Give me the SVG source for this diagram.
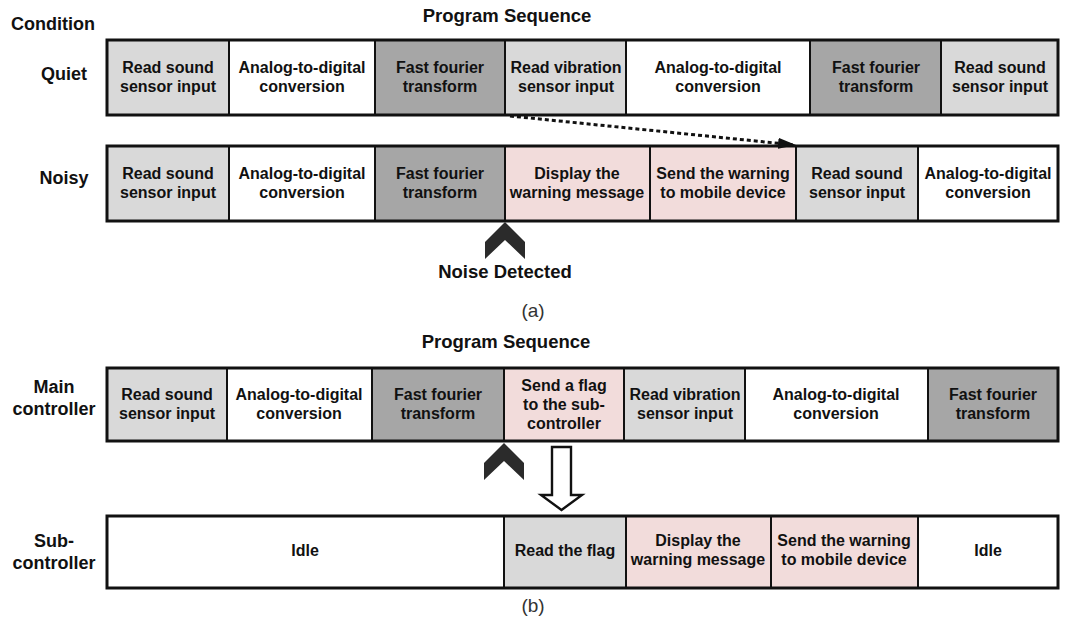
<svg xmlns="http://www.w3.org/2000/svg" width="1065" height="621" viewBox="0 0 1065 621">
<style>
text{font-family:"Liberation Sans",Arial,sans-serif;font-weight:bold;fill:#111;}
.t{font-size:16px;text-anchor:middle;}
.lbl{font-size:18px;text-anchor:middle;}
.ttl{font-size:18.5px;text-anchor:middle;}
.cap{font-size:19px;font-weight:normal;text-anchor:middle;fill:#333;}
.c{stroke:#111;stroke-width:2;}
.lg{fill:#d9d9d9;}
.dg{fill:#a6a6a6;}
.wh{fill:#ffffff;}
.pk{fill:#f2dcdb;}
.frame{fill:none;stroke:#111;stroke-width:3;}
.chev{fill:#2b2b2b;}
</style>
<defs>
<marker id="ah" markerWidth="18" markerHeight="11" refX="17" refY="5.5" orient="auto" markerUnits="userSpaceOnUse" viewBox="0 0 18 11">
<path d="M0,0 L18,5.5 L0,11 Z" fill="#111"/>
</marker>
</defs>
<rect width="1065" height="621" fill="#fff"/>

<text x="53" y="30" class="ttl" style="font-size:18px">Condition</text>
<text x="507" y="22" class="ttl">Program Sequence</text>
<text x="64" y="80" class="lbl">Quiet</text>
<text x="64" y="184" class="lbl">Noisy</text>

<!-- Quiet row -->
<g id="q1"><rect x="107" y="40" width="122" height="75" class="c lg"/><text x="168" y="73" class="t">Read sound</text><text x="168" y="92" class="t">sensor input</text></g>
<g id="q2"><rect x="229" y="40" width="146" height="75" class="c wh"/><text x="302" y="73" class="t">Analog-to-digital</text><text x="302" y="92" class="t">conversion</text></g>
<g id="q3"><rect x="375" y="40" width="130" height="75" class="c dg"/><text x="440" y="73" class="t">Fast fourier</text><text x="440" y="92" class="t">transform</text></g>
<g id="q4"><rect x="505" y="40" width="121" height="75" class="c lg"/><text x="566" y="73" class="t">Read vibration</text><text x="566" y="92" class="t">sensor input</text></g>
<g id="q5"><rect x="626" y="40" width="184" height="75" class="c wh"/><text x="718" y="73" class="t">Analog-to-digital</text><text x="718" y="92" class="t">conversion</text></g>
<g id="q6"><rect x="810" y="40" width="131" height="75" class="c dg"/><text x="876" y="73" class="t">Fast fourier</text><text x="876" y="92" class="t">transform</text></g>
<g id="q7"><rect x="941" y="40" width="117" height="75" class="c lg"/><text x="1000" y="73" class="t">Read sound</text><text x="1000" y="92" class="t">sensor input</text></g>
<rect x="107" y="40" width="951" height="75" class="frame"/>

<!-- Noisy row -->
<g id="n1"><rect x="107" y="146" width="122" height="75" class="c lg"/><text x="168" y="179" class="t">Read sound</text><text x="168" y="198" class="t">sensor input</text></g>
<g id="n2"><rect x="229" y="146" width="146" height="75" class="c wh"/><text x="302" y="179" class="t">Analog-to-digital</text><text x="302" y="198" class="t">conversion</text></g>
<g id="n3"><rect x="375" y="146" width="130" height="75" class="c dg"/><text x="440" y="179" class="t">Fast fourier</text><text x="440" y="198" class="t">transform</text></g>
<g id="n4"><rect x="505" y="146" width="145" height="75" class="c pk"/><text x="577" y="179" class="t">Display the</text><text x="577" y="198" class="t">warning message</text></g>
<g id="n5"><rect x="650" y="146" width="146" height="75" class="c pk"/><text x="723" y="179" class="t">Send the warning</text><text x="723" y="198" class="t">to mobile device</text></g>
<g id="n6"><rect x="796" y="146" width="122" height="75" class="c lg"/><text x="857" y="179" class="t">Read sound</text><text x="857" y="198" class="t">sensor input</text></g>
<g id="n7"><rect x="918" y="146" width="140" height="75" class="c wh"/><text x="988" y="179" class="t">Analog-to-digital</text><text x="988" y="198" class="t">conversion</text></g>
<rect x="107" y="146" width="951" height="75" class="frame"/>

<g id="noise-marker"><path d="M505,222 L525,242 L525,259 L505,240 L485,259 L485,242 Z" class="chev"/><text x="505" y="278" class="lbl" style="font-size:18.5px">Noise Detected</text></g>
<text x="533" y="317" class="cap">(a)</text>

<!-- (b) -->
<text x="506" y="348" class="ttl">Program Sequence</text>
<text x="54" y="393" class="lbl">Main</text>
<text x="54" y="415" class="lbl">controller</text>
<text x="54" y="547" class="lbl">Sub-</text>
<text x="54" y="569" class="lbl">controller</text>

<g id="m1"><rect x="107" y="368" width="120" height="73" class="c lg"/><text x="167" y="400" class="t">Read sound</text><text x="167" y="419" class="t">sensor input</text></g>
<g id="m2"><rect x="227" y="368" width="145" height="73" class="c wh"/><text x="299" y="400" class="t">Analog-to-digital</text><text x="299" y="419" class="t">conversion</text></g>
<g id="m3"><rect x="372" y="368" width="132" height="73" class="c dg"/><text x="438" y="400" class="t">Fast fourier</text><text x="438" y="419" class="t">transform</text></g>
<g id="m4"><rect x="504" y="368" width="120" height="73" class="c pk"/><text x="564" y="391" class="t">Send a flag</text><text x="564" y="410" class="t">to the sub-</text><text x="564" y="429" class="t">controller</text></g>
<g id="m5"><rect x="624" y="368" width="121" height="73" class="c lg"/><text x="685" y="400" class="t">Read vibration</text><text x="685" y="419" class="t">sensor input</text></g>
<g id="m6"><rect x="745" y="368" width="183" height="73" class="c wh"/><text x="836" y="400" class="t">Analog-to-digital</text><text x="836" y="419" class="t">conversion</text></g>
<g id="m7"><rect x="928" y="368" width="130" height="73" class="c dg"/><text x="993" y="400" class="t">Fast fourier</text><text x="993" y="419" class="t">transform</text></g>
<rect x="107" y="368" width="951" height="73" class="frame"/>

<g id="s1"><rect x="107" y="516" width="397" height="72" class="c wh"/><text x="305" y="556" class="t">Idle</text></g>
<g id="s2"><rect x="504" y="516" width="122" height="72" class="c lg"/><text x="565" y="556" class="t">Read the flag</text></g>
<g id="s3"><rect x="626" y="516" width="145" height="72" class="c pk"/><text x="698" y="546" class="t">Display the</text><text x="698" y="565" class="t">warning message</text></g>
<g id="s4"><rect x="771" y="516" width="147" height="72" class="c pk"/><text x="844" y="546" class="t">Send the warning</text><text x="844" y="565" class="t">to mobile device</text></g>
<g id="s5"><rect x="918" y="516" width="140" height="72" class="c wh"/><text x="988" y="556" class="t">Idle</text></g>
<rect x="107" y="516" width="951" height="72" class="frame"/>

<g id="flag-marker"><path d="M504,443 L524,463 L524,480 L504,461 L484,480 L484,463 Z" class="chev"/></g>
<text x="533" y="612" class="cap">(b)</text>

<g id="connectors">
<line x1="510" y1="116" x2="795" y2="145" stroke="#111" stroke-width="3" stroke-dasharray="4,3" marker-end="url(#ah)"/>
<path d="M552,447 L571,447 L571,495 L582,495 L561.5,510 L541,495 L552,495 Z" fill="#fff" stroke="#111" stroke-width="2.4"/>
</g>
</svg>
